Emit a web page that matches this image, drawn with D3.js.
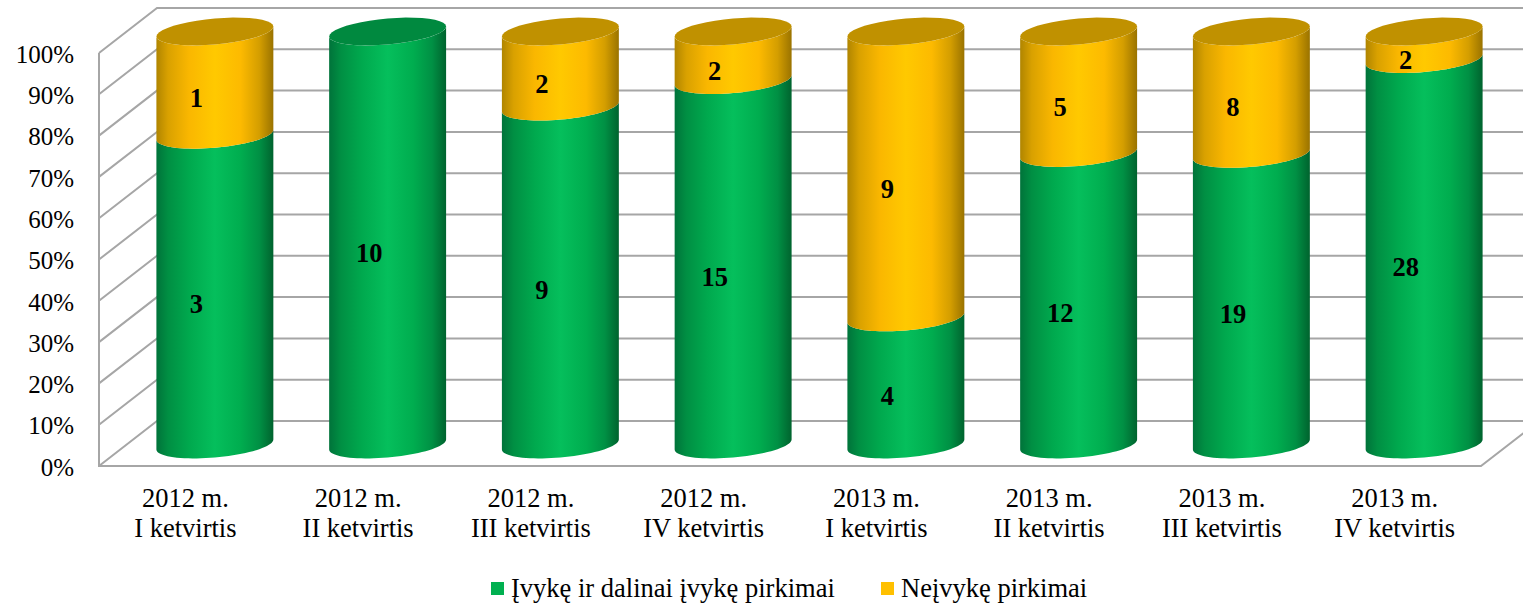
<!DOCTYPE html>
<html>
<head>
<meta charset="utf-8">
<script src="https://d3js.org/d3.v7.min.js"></script>
<style>
    html, body {margin: 0; padding: 0; background: #fff;}
    svg {display: block;}
    text {font-family: "Liberation Serif", serif; fill: #000;}
</style>
</head>
<body>
<div id="chart"></div>
<script>
const quarters = ["2012 m.|I ketvirtis", "2012 m.|II ketvirtis", "2012 m.|III ketvirtis", "2012 m.|IV ketvirtis",
    "2013 m.|I ketvirtis", "2013 m.|II ketvirtis", "2013 m.|III ketvirtis", "2013 m.|IV ketvirtis"];
const completed = [3, 10, 9, 15, 4, 12, 19, 28];
const failed = [1, 0, 2, 2, 9, 5, 8, 2];
const seriesNames = ["Įvykę ir dalinai įvykę pirkimai", "Neįvykę pirkimai"];
const percentTicks = [0, 10, 20, 30, 40, 50, 60, 70, 80, 90, 100];

function chart() {
    const width = 1523
    const height = 605
    const gridColor = "#a6a6a6"
    const fontSize = 26.5
    const tickFontSize = 25

    //floor front edge and the offset of the back wall
    const front = {l: 99, r: 1481, b: 466, t: 53}
    const depth = {x: 58, y: -45}

    //cylinder ellipse: rx across, tilt is how far the right side lifts, ry the height
    const cyl = {tilt: 5, ry: 13, top: 31.5, bottom: 444.5, shift: 29.5}

    const svg = d3.select("#chart")
        .append("svg")
        .attr("width", width)
        .attr("height", height);

    const defs = svg.append("defs");
    const shades = [
        {id: "gradGreen", stops: [["0%", "#00733a"], ["10%", "#008f43"], ["28%", "#00a94e"], ["50%", "#05bf5c"],
            ["72%", "#00ad4f"], ["88%", "#009044"], ["100%", "#00632e"]]},
        {id: "gradYellow", stops: [["0%", "#b08500"], ["10%", "#d9a100"], ["28%", "#fab700"], ["50%", "#ffc900"],
            ["72%", "#fdba00"], ["88%", "#d49e00"], ["100%", "#9a7300"]]}
    ];
    shades.forEach(function(s) {
        defs.append("linearGradient")
            .attr("id", s.id)
            .selectAll("stop")
            .data(s.stops)
            .join("stop")
            .attr("offset", d => d[0])
            .attr("stop-color", d => d[1]);
    });
    const fills = ["url(#gradGreen)", "url(#gradYellow)"];
    const topFills = ["#00893f", "#c09100"];
    const legendFills = ["#00b050", "#ffc000"];

    //scales
    const scaleX = d3.scaleBand().domain(quarters).range([front.l, front.r]);
    const scaleCyl = d3.scaleBand().domain(quarters)
        .range([front.l + cyl.shift, front.r + cyl.shift])
        .paddingInner(0.323)
        .paddingOuter(0.1615);
    const scaleFront = d3.scaleLinear().domain([0, 100]).range([front.b, front.t]);
    const scaleCylY = d3.scaleLinear().domain([0, 100]).range([cyl.bottom, cyl.top]);

    //walls
    const walls = svg.append("g")
        .attr("fill", "none")
        .attr("stroke", gridColor)
        .attr("stroke-width", 2);
    percentTicks.forEach(function(p) {
        const y = scaleFront(p);
        walls.append("path").attr("d", `M${front.l},${y}L${front.l + depth.x},${y + depth.y}H${width}`);
    });
    walls.append("path").attr("d", `M${front.l},${front.t}V${front.b}H${front.r}L${front.r + depth.x},${front.b + depth.y}`);

    //y labels
    const axisY = d3.axisLeft(scaleFront)
        .tickValues(percentTicks)
        .tickSize(0)
        .tickPadding(25)
        .tickFormat(d => d + "%");
    const yAxis = svg.append("g")
        .attr("transform", `translate(${front.l},0)`)
        .call(axisY);
    yAxis.select(".domain").remove();
    yAxis.selectAll("text")
        .attr("font-size", tickFontSize)
        .attr("dy", "0.37em")
        .style("font-family", '"Liberation Serif", serif');

    //x labels, two lines each
    const xLabels = svg.append("g")
        .selectAll("text")
        .data(quarters)
        .join("text")
        .attr("text-anchor", "middle")
        .attr("font-size", fontSize)
        .attr("y", 507);
    xLabels.append("tspan")
        .attr("x", d => scaleX(d) + scaleX.bandwidth() / 2)
        .text(d => d.split("|")[0]);
    xLabels.append("tspan")
        .attr("x", d => scaleX(d) + scaleX.bandwidth() / 2)
        .attr("dy", 30)
        .text(d => d.split("|")[1]);

    //one half or whole of the tilted ellipse, from t0 to t1
    function arcPoints(cx, cy, rx, t0, t1) {
        return d3.range(0, 41).map(function(i) {
            const t = t0 + (t1 - t0) * i / 40;
            return [cx + rx * Math.cos(t), cy - cyl.tilt * Math.cos(t) + cyl.ry * Math.sin(t)];
        });
    }
    const line = d3.line();

    quarters.forEach(function(q, i) {
        const total = completed[i] + failed[i];
        const rx = scaleCyl.bandwidth() / 2;
        const cx = scaleCyl(q) + rx;
        const parts = [completed[i] / total * 100, failed[i] / total * 100];
        const g = svg.append("g").attr("class", "cylinder");
        let start = 0;
        let topIndex = 0;
        const labels = [];

        parts.forEach(function(p, k) {
            if (p === 0) return;
            const y0 = scaleCylY(start);
            const y1 = scaleCylY(start + p);
            //front of the lower rim, then back along the front of the upper rim
            const pts = arcPoints(cx, y0, rx, Math.PI, 0).concat(arcPoints(cx, y1, rx, 0, Math.PI));
            g.append("path")
                .attr("d", line(pts) + "Z")
                .attr("fill", fills[k]);
            labels.push({value: k === 0 ? completed[i] : failed[i], y: scaleCylY(start + p / 2)});
            topIndex = k;
            start += p;
        });

        g.append("path")
            .attr("d", line(arcPoints(cx, scaleCylY(100), rx, 0, 2 * Math.PI)) + "Z")
            .attr("fill", topFills[topIndex]);

        labels.forEach(function(l) {
            g.append("text")
                .attr("x", cx - 18.5)
                .attr("y", l.y + 15)
                .attr("dy", "0.33em")
                .attr("text-anchor", "middle")
                .attr("font-size", fontSize)
                .attr("font-weight", 700)
                .text(l.value);
        });
    });

    //legend
    const legendX = [491, 881];
    const legend = svg.append("g");
    seriesNames.forEach(function(name, i) {
        legend.append("rect")
            .attr("x", legendX[i])
            .attr("y", 582)
            .attr("width", 13)
            .attr("height", 13)
            .attr("fill", legendFills[i]);
        legend.append("text")
            .attr("x", legendX[i] + 20)
            .attr("y", 597)
            .attr("font-size", fontSize)
            .text(name);
    });
}
chart();
</script>
</body>
</html>
